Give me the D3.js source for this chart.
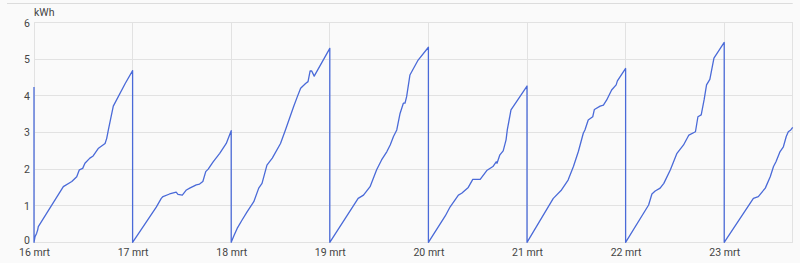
<!DOCTYPE html>
<html><head><meta charset="utf-8">
<script src="https://cdn.jsdelivr.net/npm/d3@7"></script>
<style>
html,body{margin:0;padding:0;background:#fafafa;}
svg{display:block;font-family:Roboto,"Noto Sans",sans-serif;}
</style></head>
<body><svg id="chart" width="800" height="263"></svg>
<script>
const unit = "kWh";
const yTicks = [0,1,2,3,4,5,6];
const dayLabels = ["16 mrt","17 mrt","18 mrt","19 mrt","20 mrt","21 mrt","22 mrt","23 mrt"];
const startValue = 4.24; // end of 15 mrt
const endHour = 16.67;   // chart ends 23 mrt ~16:40
// [hour of day, cumulative kWh]
const day16 = [[0,0],[0.24,0.15],[0.65,0.25],[0.9,0.34],[1.05,0.43],[7.14,1.52],[9.2,1.66],[10.4,1.79],[11.04,1.98],[11.85,2.02],[12.4,2.16],[13.6,2.3],[14.4,2.36],[15.7,2.57],[17.3,2.7],[17.7,2.84],[18.1,3.07],[19.3,3.72],[22.2,4.34],[24,4.69]];
const day17 = [[0,0],[5.76,0.96],[6.98,1.2],[7.4,1.25],[9.0,1.32],[10.6,1.37],[11.04,1.31],[12.1,1.29],[13.1,1.43],[13.9,1.48],[15.5,1.57],[16.3,1.59],[17.1,1.66],[17.8,1.93],[18.4,2.0],[19.6,2.2],[21.2,2.43],[22.8,2.7],[24,3.05]];
const day18 = [[0,0],[0.63,0.17],[1.45,0.38],[2.65,0.61],[3.9,0.84],[5.5,1.11],[6.7,1.48],[7.5,1.61],[8.7,2.11],[10,2.3],[12,2.7],[13.2,3.07],[14.2,3.39],[15.2,3.71],[16.1,3.98],[16.9,4.21],[18.1,4.34],[18.7,4.39],[19.2,4.68],[19.6,4.68],[20.2,4.54],[24,5.3]];
const day19 = [[0,0],[6.9,1.2],[8.2,1.29],[9.8,1.52],[11.4,1.98],[12.6,2.25],[13.9,2.48],[14.7,2.66],[15.5,2.89],[16.3,3.07],[17.1,3.52],[17.9,3.8],[18.3,3.8],[18.7,3.98],[19.5,4.57],[21.5,4.98],[24,5.33]];
const day20 = [[0,0],[4.1,0.72],[5.3,0.97],[7.3,1.29],[8.1,1.34],[9.7,1.5],[10.8,1.72],[12.6,1.72],[14.2,1.96],[15.7,2.07],[16.5,2.2],[16.7,2.16],[17.4,2.39],[18.2,2.5],[18.9,2.8],[19.2,3.07],[20.1,3.62],[24,4.27]];
const day21 = [[0,0],[6.4,1.2],[8.4,1.43],[10.0,1.7],[11.3,2.07],[12.5,2.48],[13.7,2.98],[14.1,3.07],[14.9,3.34],[16,3.43],[16.4,3.63],[17.8,3.72],[18.6,3.75],[19.4,3.89],[20.6,4.16],[21.7,4.3],[22,4.41],[24,4.75]];
const day22 = [[0,0],[5.6,1.02],[6.4,1.32],[7.2,1.4],[8.4,1.48],[9.3,1.61],[10.9,1.98],[12.5,2.43],[14.1,2.66],[15.4,2.93],[17.0,3.02],[17.6,3.43],[18.4,3.48],[19.1,3.89],[19.7,4.3],[20.5,4.45],[21.5,5.03],[24,5.46]];
const day23 = [[0,0],[7.1,1.2],[8.3,1.25],[10,1.48],[11.2,1.79],[12,2.07],[12.6,2.2],[13.6,2.48],[14.4,2.61],[15.1,2.89],[15.6,3.02],[16.2,3.07],[16.67,3.14]];
const days = [day16,day17,day18,day19,day20,day21,day22,day23];

const HOUR = 3600000;
const t0 = Date.UTC(2024,2,16);
const dayStarts = dayLabels.map((_,i)=>new Date(t0 + i*24*HOUR));
const points = [{t:new Date(t0), v:startValue}];
days.forEach((arr,i)=>arr.forEach(([h,v])=>points.push({t:new Date(t0 + (i*24+h)*HOUR), v})));

const svg = d3.select("#chart");
const L = 34, R = 792.7, T = 22.7, B = 242.3;
const x = d3.scaleUtc().domain([new Date(t0), new Date(t0 + (7*24+endHour)*HOUR)]).range([L,R]);
const y = d3.scaleLinear().domain([0,6]).range([B,T]);

// top card border
svg.append("line").attr("x1",7).attr("x2",R).attr("y1",3.5).attr("y2",3.5)
  .attr("stroke","#dcdcdc").attr("stroke-width",1.2);

// grid
const grid = svg.append("g").attr("stroke","#e2e2e2").attr("stroke-width",1).attr("shape-rendering","crispEdges");
grid.selectAll(".h").data(yTicks).join("line")
  .attr("x1",L).attr("x2",R).attr("y1",d=>y(d)).attr("y2",d=>y(d));
grid.selectAll(".v").data(dayStarts).join("line")
  .attr("x1",d=>x(d)).attr("x2",d=>x(d)).attr("y1",T).attr("y2",B);
grid.append("line").attr("x1",R).attr("x2",R).attr("y1",T).attr("y2",B);

// y axis labels
const yAxis = svg.append("g").attr("transform",`translate(${L},0)`)
  .call(d3.axisLeft(y).tickValues(yTicks).tickSize(0).tickPadding(4).tickFormat(d3.format("d")));
yAxis.select(".domain").remove();
yAxis.selectAll("text").attr("font-size",10.5).attr("fill","#444").attr("font-family","Roboto");
yAxis.selectAll("text").filter(d=>d===0).attr("dy","0.12em");

// x axis labels
const xAxis = svg.append("g").attr("transform",`translate(0,${B})`)
  .call(d3.axisBottom(x).tickValues(dayStarts).tickSize(0).tickPadding(6.5).tickFormat((d,i)=>dayLabels[i]));
xAxis.select(".domain").remove();
xAxis.selectAll("text").attr("font-size",10.5).attr("fill","#444").attr("font-family","Roboto");

// unit label
svg.append("text").attr("x",L).attr("y",16).attr("font-size",10.5).attr("fill","#444").text(unit);

// clip
svg.append("clipPath").attr("id","clip").append("rect").attr("x",L-1).attr("y",T-2).attr("width",R-L+2).attr("height",B-T+4);

svg.append("path").datum(points)
  .attr("clip-path","url(#clip)")
  .attr("fill","none").attr("stroke","#4a6ad8").attr("stroke-width",1.3).attr("stroke-linejoin","round")
  .attr("d", d3.line().x(d=>x(d.t)).y(d=>y(d.v)));
</script></body></html>
